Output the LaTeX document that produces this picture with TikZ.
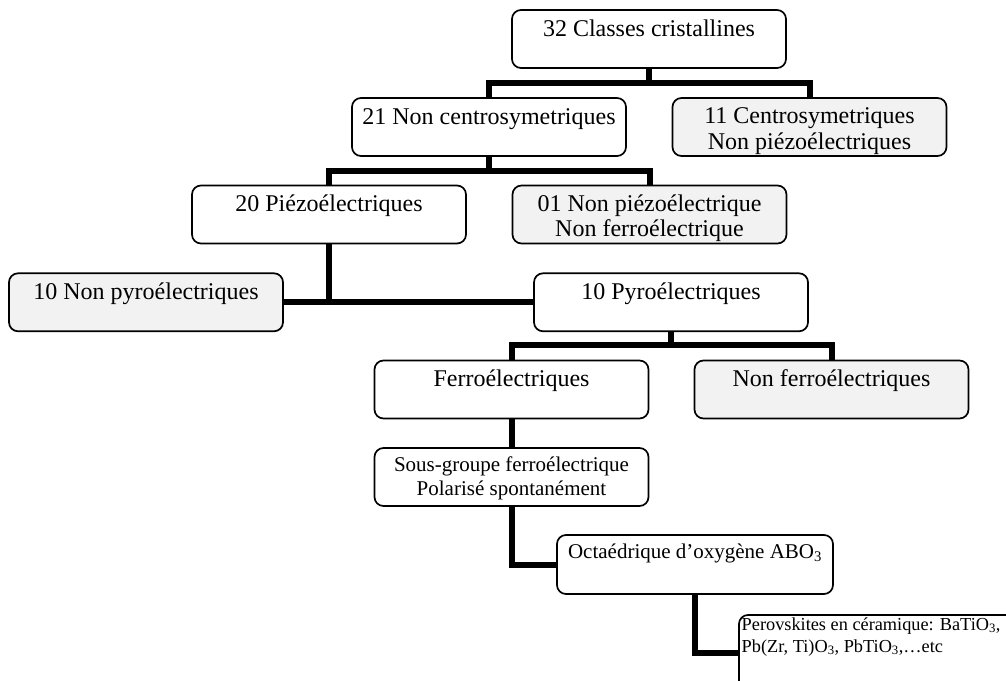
\documentclass[tikz,border=0pt]{standalone}
\usepackage{fontspec}
\setmainfont{Liberation Serif}
\definecolor{boxgray}{RGB}{242,242,242}
% several centred lines, baseline on the first one
\newcommand{\mlines}[1]{\begin{tabular}[t]{@{}c@{}}#1\end{tabular}}
\newcommand{\llines}[1]{\begin{tabular}[t]{@{}l@{}}#1\end{tabular}}

\begin{document}
\begin{tikzpicture}[x=1pt,y=-1pt,
  box/.style={draw, rounded corners=9pt, line width=1.7pt, fill=white,
    inner sep=0pt, outer sep=0pt, minimum width=274pt, minimum height=58pt},
  greybox/.style={box, fill=boxgray},
  lbl/.style={inner sep=0pt, anchor=base, font=\fontsize{24}{25.5}\selectfont},
  lblsmall/.style={lbl, font=\fontsize{21}{24}\selectfont},
  lbltiny/.style={inner sep=0pt, anchor=base west, font=\fontsize{18.3}{22}\selectfont},
  conn/.style={line width=6pt}]

\useasboundingbox (0,0) rectangle (1006,680);

% ---- boxes ----
\node[box]     (cls)    at (649,39)     {};
\node[box]     (ncs)    at (489,127)    {};
\node[greybox] (ctr)    at (809.5,127)  {};
\node[box]     (piezo)  at (329,214.5)  {};
\node[greybox] (npz)    at (649.5,214.5){};
\node[greybox] (npyro)  at (146,302.3)  {};
\node[box]     (pyro)   at (671,302.3)  {};
\node[box]     (ferro)  at (511.5,389.5){};
\node[greybox] (nferro) at (831.5,389.5){};
\node[box]     (sg)     at (511.5,477)  {};
\node[box, minimum width=276pt, minimum height=59pt] (octa) at (695,564.5) {};
\node[box, minimum width=277pt, minimum height=75pt] (perov) at (877.5,652.5) {};

% ---- texts ----
\node[lbl] (cls-t)    at ([yshift=-26pt]cls.north)    {32 Classes cristallines};
\node[lbl] (ncs-t)    at ([yshift=-26pt]ncs.north)    {21 Non centrosymetriques};
\node[lbl] (ctr-t)    at ([yshift=-25.5pt]ctr.north)  {\mlines{11 Centrosymetriques\\Non piézoélectriques}};
\node[lbl] (piezo-t)  at ([yshift=-26pt]piezo.north)  {20 Piézoélectriques};
\node[lbl] (npz-t)    at ([yshift=-25.5pt]npz.north)  {\mlines{01 Non piézoélectrique\\Non ferroélectrique}};
\node[lbl] (npyro-t)  at ([yshift=-26pt]npyro.north)  {10 Non pyroélectriques};
\node[lbl] (pyro-t)   at ([yshift=-26pt]pyro.north)   {10 Pyroélectriques};
\node[lbl] (ferro-t)  at ([yshift=-26pt]ferro.north)  {Ferroélectriques};
\node[lbl] (nferro-t) at ([yshift=-26pt]nferro.north) {Non ferroélectriques};
\node[lblsmall] (sg-t)   at ([yshift=-23pt]sg.north)   {\mlines{Sous-groupe ferroélectrique\\Polarisé spontanément}};
\node[lblsmall] (octa-t) at ([yshift=-23pt]octa.north) {Octaédrique d’oxygène ABO\textsubscript{3}};
\node[lbltiny] (perov-t) at ([xshift=2.5pt,yshift=-15pt]perov.north west)
  {\llines{Perovskites en céramique: BaTiO\textsubscript{3},\\Pb(Zr, Ti)O\textsubscript{3}, PbTiO\textsubscript{3},…etc}};

% ---- connectors ----
\coordinate (j1) at (649,83);
\coordinate (j2) at (489,171);
\coordinate (j4) at (671,345);

\draw[conn] (cls.south) -- (j1);
\draw[conn] (ncs.north) |- (j1) -| (ctr.north);

\draw[conn] (ncs.south) -- (j2);
\draw[conn] (piezo.north) |- (j2) -| (npz.north);

\draw[conn] (piezo.south) -- (piezo.south |- pyro.west);
\draw[conn] (npyro.east) -- (pyro.west);

\draw[conn] (pyro.south) -- (j4);
\draw[conn] (ferro.north) |- (j4) -| (nferro.north);

\draw[conn] (ferro.south) -- (sg.north);
\draw[conn] (sg.south) |- (octa.west);
\draw[conn] (octa.south) |- (perov.west);
\end{tikzpicture}
\end{document}
